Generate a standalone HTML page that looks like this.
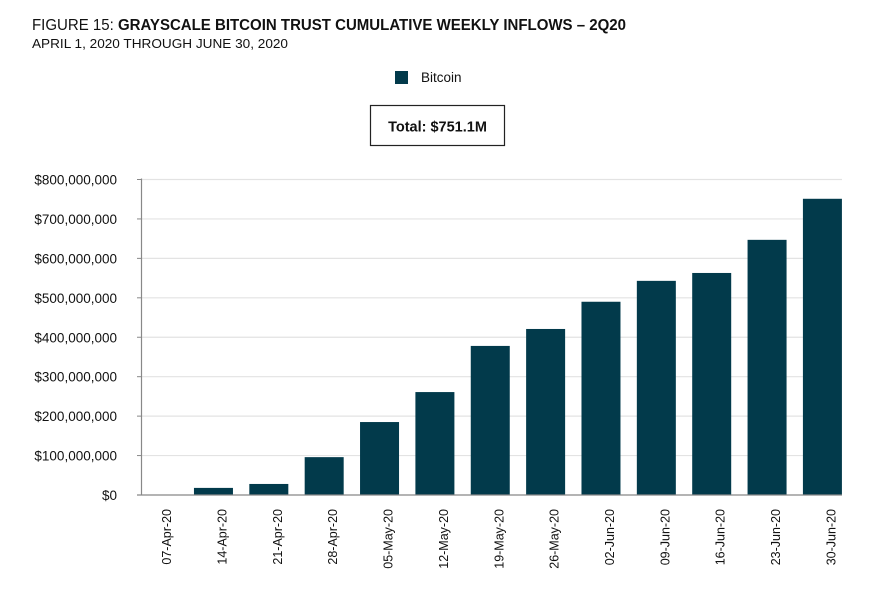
<!DOCTYPE html>
<html><head><meta charset="utf-8"><style>
body{margin:0;background:#fff;}
svg{display:block;font-family:"Liberation Sans",Arial,sans-serif;}
</style></head><body>
<svg id="chart" width="875" height="595" viewBox="0 0 875 595">
<text x="32" y="30" font-size="15.5" fill="#111" textLength="594" lengthAdjust="spacingAndGlyphs">FIGURE 15: <tspan font-weight="bold">GRAYSCALE BITCOIN TRUST CUMULATIVE WEEKLY INFLOWS – 2Q20</tspan></text>
<text x="32" y="48" font-size="12.5" fill="#111" textLength="256" lengthAdjust="spacingAndGlyphs">APRIL 1, 2020 THROUGH JUNE 30, 2020</text>
<g>
<rect x="395" y="71" width="13" height="13" fill="#023a4b"/>
<text x="421" y="82" font-size="13.5" fill="#111">Bitcoin</text>
</g>
<g>
<rect x="370.5" y="105.5" width="134" height="40" fill="#fff" stroke="#222" stroke-width="1.2"/>
<text x="437.5" y="131.5" font-size="14.5" font-weight="bold" text-anchor="middle" fill="#111">Total: $751.1M</text>
</g>
<g id="grid"></g>
<g id="bars"></g>
<g id="axes"></g>
</svg>
<script>
const categories = ["07-Apr-20","14-Apr-20","21-Apr-20","28-Apr-20","05-May-20","12-May-20","19-May-20","26-May-20","02-Jun-20","09-Jun-20","16-Jun-20","23-Jun-20","30-Jun-20"];
const values = [0,18,28,96,185,261,378,421,490,543,563,647,751.1];
const yTicks = [0,100,200,300,400,500,600,700,800];
const yTickLabels = ["$0","$100,000,000","$200,000,000","$300,000,000","$400,000,000","$500,000,000","$600,000,000","$700,000,000","$800,000,000"];

const NS="http://www.w3.org/2000/svg";
const y0=495, y800=179.5, axisX=141.5, right=842;
function yScale(v){return y0-(v/800)*(y0-y800);}
const step=55.36, firstC=158.1, barW=39;
function xCenter(i){return firstC+i*step;}
function mk(tag,attrs,parent){const e=document.createElementNS(NS,tag);for(const k in attrs)e.setAttribute(k,attrs[k]);parent.appendChild(e);return e;}
const grid=document.getElementById('grid'),bars=document.getElementById('bars'),axes=document.getElementById('axes');
yTicks.forEach((t,i)=>{
  const y=yScale(t);
  if(t>0){const g=mk('line',{x1:axisX,x2:right,y1:y,y2:y,stroke:'#e3e3e3','stroke-width':1.2},grid);
  
  }
  const tk=mk('line',{x1:137,x2:axisX,y1:y,y2:y,stroke:'#888','stroke-width':1},axes);
  
  
  const tx=mk('text',{x:117,y:y+5,'font-size':13.5,'text-anchor':'end',fill:'#111'},axes);
  tx.textContent=yTickLabels[i];
  
  
});
const ax=mk('line',{x1:axisX,x2:axisX,y1:y800-1,y2:y0,stroke:'#888','stroke-width':1.2},axes);


const bx=mk('line',{x1:137,x2:right,y1:y0,y2:y0,stroke:'#888','stroke-width':1.2},axes);


categories.forEach((c,i)=>{
  const cx=xCenter(i), top=yScale(values[i]);
  const r=mk('rect',{x:cx-barW/2,y:top,width:barW,height:Math.max(0,y0-top),fill:'#023a4b'},bars);
  
  
  const lx=cx+13;
  const t=mk('text',{x:lx,y:509,'font-size':12.5,'text-anchor':'end',fill:'#111',transform:`rotate(-90 ${lx} 509)`},axes);
  t.textContent=c;
  
  
});
</script>
</body></html>
